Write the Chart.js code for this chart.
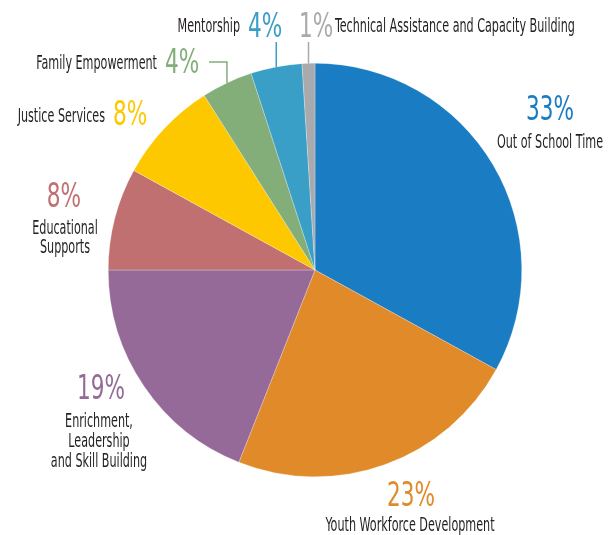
<!DOCTYPE html>
<html>
<head>
<meta charset="utf-8">
<script src="https://cdn.jsdelivr.net/npm/chart.js@4/dist/chart.umd.min.js"></script>
<style>
html,body{margin:0;padding:0;background:#fff;}
#c{display:block;}
</style>
</head>
<body>
<canvas id="c" width="609" height="535"></canvas>
<script>
const categories = ['Out of School Time','Youth Workforce Development','Enrichment, Leadership and Skill Building','Educational Supports','Justice Services','Family Empowerment','Mentorship','Technical Assistance and Capacity Building'];
const values = [33, 23, 19, 8, 8, 4, 4, 1];
const labelLines = [
  ['Out of School Time'],
  ['Youth Workforce Development'],
  ['Enrichment,','Leadership','and Skill Building'],
  ['Educational','Supports'],
  ['Justice Services'],
  ['Family Empowerment'],
  ['Mentorship'],
  ['Technical Assistance and Capacity Building']
];
const colors = ['#1a7cc3','#e08a2a','#956a98','#c07070','#fdc800','#84ae79','#3a9fc7','#a9aaad'];

// label layout (text placement only)
const layout = [
  {type:'stack', px:550, py:120, lx:550, ly:[148]},
  {type:'stack', px:411, py:506, lx:410, ly:[531]},
  {type:'stack', px:101, py:399, lx:99, ly:[427,447,467]},
  {type:'stack', px:64, py:207, lx:65, ly:[234,253]},
  {type:'inline', lx:105, ly:122, px:113, py:125},
  {type:'inline', lx:157, ly:69, px:165, py:73, leader:'elbow', ex:209, ey:62},
  {type:'inline', lx:240, ly:32, px:248, py:37, leader:'vert', ey:42},
  {type:'after', px:299, py:37, lx:335, ly:32, leader:'vert', ey:42}
];

const LABEL_FONT = '20px "Liberation Sans Narrow", "DejaVu Sans Condensed", sans-serif';
const PCT_FONT = '34px "Liberation Sans Narrow", "DejaVu Sans Condensed", sans-serif';
const TEXT_COLOR = '#231f20';

function drawT(ctx, text, x, y, align, font, color, sx){
  ctx.save();
  ctx.font = font;
  ctx.fillStyle = color;
  ctx.textBaseline = 'alphabetic';
  ctx.translate(x, y);
  ctx.scale(sx, 1);
  ctx.textAlign = align;
  ctx.fillText(text, 0, 0);
  ctx.restore();
}

const labelPlugin = {
  id: 'outLabels',
  afterDraw(chart){
    const ctx = chart.ctx;
    ctx.save();
    ctx.font = LABEL_FONT;
    const sxL = 106 / ctx.measureText('Out of School Time').width;
    ctx.font = PCT_FONT;
    const sxP = 48 / ctx.measureText('33%').width;
    ctx.restore();
    const meta = chart.getDatasetMeta(0);
    const total = values.reduce((a,b)=>a+b,0);
    meta.data.forEach((arc, i) => {
      const L = layout[i];
      const pct = Math.round(values[i] / total * 100) + '%';
      const col = colors[i];
      if (L.type === 'stack') {
        drawT(ctx, pct, L.px, L.py, 'center', PCT_FONT, col, sxP);
        labelLines[i].forEach((t, k) => drawT(ctx, t, L.lx, L.ly[k], 'center', LABEL_FONT, TEXT_COLOR, sxL));
      } else if (L.type === 'inline') {
        drawT(ctx, labelLines[i][0], L.lx, L.ly, 'right', LABEL_FONT, TEXT_COLOR, sxL);
        drawT(ctx, pct, L.px, L.py, 'left', PCT_FONT, col, sxP);
      } else {
        drawT(ctx, pct, L.px, L.py, 'left', PCT_FONT, col, sxP);
        drawT(ctx, labelLines[i][0], L.lx, L.ly, 'left', LABEL_FONT, TEXT_COLOR, sxL);
      }
      if (L.leader) {
        const p = arc.getProps(['x','y','startAngle','endAngle','outerRadius'], true);
        const mid = (p.startAngle + p.endAngle) / 2;
        const ax = p.x + Math.cos(mid) * p.outerRadius;
        const ay = p.y + Math.sin(mid) * p.outerRadius;
        ctx.save();
        ctx.strokeStyle = col;
        ctx.lineWidth = 1.5;
        ctx.beginPath();
        if (L.leader === 'vert') {
          ctx.moveTo(ax, ay);
          ctx.lineTo(ax, L.ey);
        } else {
          ctx.moveTo(ax, ay);
          ctx.lineTo(ax, L.ey);
          ctx.lineTo(L.ex, L.ey);
        }
        ctx.stroke();
        ctx.restore();
      }
    });
  }
};

new Chart(document.getElementById('c'), {
  type: 'pie',
  data: {
    labels: categories,
    datasets: [{
      data: values,
      backgroundColor: colors,
      borderColor: 'rgba(255,255,255,0.5)',
      borderWidth: 0.5
    }]
  },
  options: {
    responsive: false,
    animation: false,
    layout: { padding: { left: 108, top: 63, right: 87, bottom: 58 } },
    plugins: { legend: { display: false }, tooltip: { enabled: false } }
  },
  plugins: [labelPlugin]
});
</script>
</body>
</html>
